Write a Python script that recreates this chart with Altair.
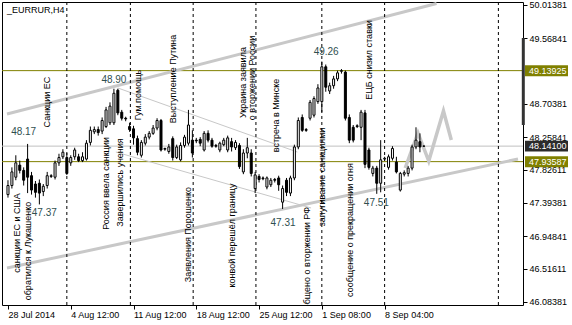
import json
import altair as alt
import pandas as pd

FONT = "Liberation Sans"
FS = 9

# ---- H4 candles (bar index, OHLC) ----
c_open = [47.50, 47.62, 47.73, 47.89, 47.82, 47.97, 47.75, 47.64, 47.65, 47.54,
          47.62, 47.74, 47.73, 47.92, 48.00, 47.99, 47.92, 48.00, 48.00, 47.95,
          47.97, 48.19, 48.33, 48.36, 48.34, 48.40, 48.45, 48.45, 48.88, 48.59,
          48.51, 48.40, 48.37, 48.24, 48.02, 48.18, 48.26, 48.31, 48.38, 48.48,
          48.10, 48.07, 48.24, 47.99, 47.96, 48.15, 48.18, 48.22, 48.22, 48.23,
          48.09, 48.31, 48.22, 48.15, 48.09, 48.16, 48.09, 48.20, 48.12, 48.15,
          47.80, 48.05, 48.05, 47.58, 47.74, 47.72, 47.60, 47.63, 47.70, 47.72,
          47.40, 47.69, 47.52, 47.72, 48.13, 48.52, 48.36, 48.51, 48.55, 48.73,
          48.73, 49.19, 48.87, 48.94, 49.03, 49.13, 49.12, 48.52, 48.39, 48.41,
          48.39, 48.58, 48.09, 47.78, 47.85, 47.65, 47.97, 47.86, 47.98, 47.93,
          47.56, 47.77, 47.78, 47.85, 48.13, 48.20, 48.14]
c_high = [47.69, 47.86, 48.02, 47.95, 47.86, 48.17, 47.80, 47.68, 47.70, 47.64,
          47.80, 47.77, 47.95, 48.04, 48.10, 48.05, 48.02, 48.12, 48.04, 48.06,
          48.22, 48.40, 48.40, 48.40, 48.52, 48.66, 48.72, 48.90, 48.90, 48.62,
          48.53, 48.45, 48.41, 48.28, 48.22, 48.30, 48.34, 48.42, 48.51, 48.50,
          48.12, 48.17, 48.27, 48.16, 48.19, 48.29, 48.62, 48.35, 48.25, 48.26,
          48.34, 48.35, 48.25, 48.17, 48.20, 48.25, 48.28, 48.25, 48.22, 48.18,
          48.10, 48.25, 48.10, 47.80, 47.77, 47.74, 47.74, 47.72, 47.72, 47.75,
          47.62, 47.72, 47.75, 48.16, 48.52, 48.56, 48.38, 48.75, 48.80, 48.96,
          49.26, 49.22, 48.98, 49.07, 49.14, 49.16, 49.14, 48.56, 48.42, 48.43,
          48.62, 48.62, 48.12, 47.88, 47.88, 48.22, 48.00, 48.03, 48.14, 48.00,
          47.80, 47.82, 47.88, 48.16, 48.39, 48.31, 48.15]
c_low = [47.46, 47.58, 47.69, 47.78, 47.62, 47.52, 47.50, 47.46, 47.37, 47.48,
         47.58, 47.72, 47.70, 47.88, 47.97, 47.76, 47.88, 47.96, 47.93, 47.93,
         47.95, 48.15, 48.30, 48.28, 48.30, 48.38, 48.42, 48.42, 48.55, 48.48,
         48.47, 48.33, 48.16, 48.02, 47.99, 48.15, 48.23, 48.29, 48.35, 48.07,
         48.08, 48.04, 47.95, 47.97, 47.94, 48.12, 48.15, 47.99, 48.18, 48.14,
         48.07, 48.19, 48.12, 48.12, 48.06, 48.14, 48.06, 48.07, 48.09, 47.84,
         47.77, 47.98, 47.74, 47.52, 47.66, 47.69, 47.57, 47.60, 47.66, 47.55,
         47.31, 47.48, 47.48, 47.69, 48.10, 48.33, 48.33, 48.48, 48.52, 48.70,
         48.59, 48.86, 48.83, 48.90, 49.00, 49.10, 48.48, 48.18, 48.19, 48.38,
         48.22, 47.85, 47.83, 47.74, 47.51, 47.53, 47.95, 47.83, 47.95, 47.78,
         47.54, 47.74, 47.74, 47.82, 48.10, 48.06, 48.13]
c_close = [47.62, 47.80, 47.92, 47.82, 47.69, 47.73, 47.56, 47.53, 47.52, 47.61,
           47.75, 47.75, 47.92, 47.99, 48.06, 47.78, 47.99, 48.09, 47.95, 48.00,
           48.18, 48.35, 48.36, 48.32, 48.48, 48.62, 48.67, 48.84, 48.58, 48.51,
           48.50, 48.36, 48.25, 48.06, 48.19, 48.26, 48.31, 48.38, 48.48, 48.09,
           48.11, 48.13, 47.99, 48.13, 48.15, 48.26, 48.42, 48.05, 48.21, 48.18,
           48.31, 48.22, 48.14, 48.14, 48.18, 48.22, 48.25, 48.13, 48.19, 47.87,
           48.05, 48.12, 47.78, 47.76, 47.70, 47.71, 47.72, 47.69, 47.69, 47.63,
           47.58, 47.53, 47.72, 48.13, 48.48, 48.35, 48.35, 48.72, 48.77, 48.91,
           49.19, 48.92, 48.94, 49.03, 49.11, 49.14, 48.51, 48.22, 48.22, 48.40,
           48.59, 47.90, 47.86, 47.85, 47.65, 47.96, 47.98, 48.00, 48.11, 47.80,
           47.78, 47.79, 47.85, 48.13, 48.22, 48.13, 48.141]

# ---- axes ----
time_tick_idx = [0, 16, 32, 48, 64, 80, 96]
time_tick_lab = ["28 Jul 2014", "4 Aug 12:00", "11 Aug 12:00", "18 Aug 12:00",
                 "25 Aug 12:00", "1 Sep 08:00", "8 Sep 04:00"]
price_ticks = [50.01381, 49.56841, 48.70381, 48.25841, 47.82611, 47.39381,
               46.94841, 46.51611, 46.08381]
x_domain = [-0.25, 130.0]
y_domain = [46.0400, 50.0469]

# ---- objects ----
sep_idx = [15, 31.2, 47.2, 63.2, 80, 96, 125]
olive_levels = [49.13925, 47.93587]
bid_price = 48.141
scroll_lo, scroll_hi = 48.420, 49.571

trend_id = ["up", "up", "low", "low"]
trend_i = [-0.25, 109.25, -0.25, 130.0]
trend_p = [48.566, 50.027, 46.529, 47.971]

thin_id = ["a", "a", "b", "b"]
thin_i = [28.0, 73.75, 27.5, 77.25]
thin_p = [48.910, 48.063, 48.063, 47.323]

zig_i = [101.25, 104.5, 107.25, 111.0, 113.0]
zig_p = [47.852, 48.315, 47.944, 48.606, 48.222]

ann_text = ["Санкции ЕС", "санкции ЕС и США", "обратился к Лукашенко",
            "Россия ввела санкции", "Завершились учения", "Гум.помощь",
            "Выступление Путина", "Заявления Порошенко", "конвой перешёл границу",
            "Украина заявила", "о вторжении России", "встреча в Минске",
            "запугивание санкциями", "сообщение о прекращении огня",
            "ЕЦБ снизил ставки"]
ann_i = [10.0, 2.2, 5.1, 25.0, 28.5, 33.2, 42.0, 46.0, 57.2, 60.0, 62.2, 68.2,
         80.1, 87.2, 92.0]
ann_p = [48.724, 46.992, 46.754, 47.647, 47.660, 48.817, 49.029, 46.972, 46.959,
         48.982, 49.042, 48.546, 47.733, 47.032, 49.280]

clip_text = ["сообщено о вторжении РФ"]
clip_i = [76.25]
clip_p = [47.336]

num_text = ["48.17", "47.37", "48.90", "47.31", "49.26", "47.51"]
num_i = [4.0, 9.25, 27.0, 70.1, 81.1, 93.9]
num_p = [48.332, 47.253, 49.015, 47.124, 49.386, 47.389]

# ---- data frames ----
candles = pd.DataFrame({"i": list(range(len(c_open))), "open": c_open,
                        "high": c_high, "low": c_low, "close": c_close})
candles["dir"] = ["up" if c >= o else "down" for o, c in zip(c_open, c_close)]

xs = alt.Scale(domain=x_domain, nice=False, zero=False)
ys = alt.Scale(domain=y_domain, nice=False, zero=False)

x_axis = alt.Axis(values=time_tick_idx,
                  labelExpr=json.dumps(time_tick_lab) + "[round(datum.value/16)]",
                  title=None, grid=False, domain=False, tickSize=4, tickColor="black",
                  labelAlign="left", labelBaseline="top", labelPadding=1, labelOffset=0,
                  labelFont=FONT, labelFontSize=FS, labelColor="black",
                  labelFlush=False, labelOverlap=False, labelBound=False)
y_axis = alt.Axis(values=price_ticks, orient="right",
                  labelExpr="format(datum.value, '.5f')",
                  title=None, grid=False, domain=False, tickSize=4, tickColor="black",
                  labelAlign="left", labelBaseline="middle", labelPadding=2,
                  labelFont=FONT, labelFontSize=FS, labelColor="black",
                  labelFlush=False, labelOverlap=False, labelBound=False)


def X(f):
    return alt.X(f, scale=xs, axis=x_axis)


def Y(f):
    return alt.Y(f, scale=ys, axis=y_axis)


olive_rules = alt.Chart(pd.DataFrame({"v": olive_levels})).mark_rule(
    color="#808000", strokeWidth=1).encode(y=Y("v:Q"))
bid_rule = alt.Chart(pd.DataFrame({"v": [bid_price]})).mark_rule(
    color="#c0c0c0", strokeWidth=1).encode(y=Y("v:Q"))

trend = alt.Chart(pd.DataFrame({"id": trend_id, "i": trend_i, "p": trend_p})).mark_line(
    color="#c8c8c8", strokeWidth=3, clip=True).encode(x=X("i:Q"), y=Y("p:Q"), detail="id:N")
thin = alt.Chart(pd.DataFrame({"id": thin_id, "i": thin_i, "p": thin_p})).mark_line(
    color="#c8c8c8", strokeWidth=1, clip=True).encode(x=X("i:Q"), y=Y("p:Q"), detail="id:N")
zig = alt.Chart(pd.DataFrame({"i": zig_i, "p": zig_p})).mark_line(
    color="#c8c8c8", strokeWidth=3.5, clip=True).encode(x=X("i:Q"), y=Y("p:Q"))

seps = alt.Chart(pd.DataFrame({"i": sep_idx})).mark_rule(
    color="black", strokeWidth=1, strokeDash=[3, 3]).encode(x=X("i:Q"))

wicks = alt.Chart(candles).mark_rule(color="black", strokeWidth=1).encode(
    x=X("i:Q"), y=Y("low:Q"), y2="high:Q")
bodies = alt.Chart(candles).mark_bar(size=2, stroke="black", strokeWidth=1).encode(
    x=X("i:Q"), y=Y("open:Q"), y2="close:Q",
    fill=alt.Fill("dir:N", scale=alt.Scale(domain=["up", "down"], range=["white", "black"]),
                  legend=None))

ann = alt.Chart(pd.DataFrame({"t": ann_text, "i": ann_i, "p": ann_p})).mark_text(
    angle=270, font=FONT, fontSize=FS, color="black", align="center", baseline="middle"
).encode(x=X("i:Q"), y=Y("p:Q"), text="t:N")
ann_clip = alt.Chart(pd.DataFrame({"t": clip_text, "i": clip_i, "p": clip_p})).mark_text(
    angle=270, font=FONT, fontSize=FS, color="black", align="right", baseline="middle",
    clip=True).encode(x=X("i:Q"), y=Y("p:Q"), text="t:N")
nums = alt.Chart(pd.DataFrame({"t": num_text, "i": num_i, "p": num_p})).mark_text(
    font=FONT, fontSize=FS + 1, color="#2f4f4f", align="center", baseline="middle"
).encode(x=X("i:Q"), y=Y("p:Q"), text="t:N")

half_box = 0.0727
olive_box = alt.Chart(pd.DataFrame({"v": olive_levels})).transform_calculate(
    lo=f"datum.v - {half_box}", hi=f"datum.v + {half_box}",
    lab="format(datum.v, '.5f')")
olive_rect = olive_box.mark_rect(color="#808000").encode(
    x=alt.value(523), x2=alt.value(566), y=Y("lo:Q"), y2="hi:Q")
olive_txt = olive_box.mark_text(color="white", font=FONT, fontSize=FS, align="left",
                                baseline="middle").encode(
    x=alt.value(527), y=Y("v:Q"), text="lab:N")
bid_box = alt.Chart(pd.DataFrame({"v": [bid_price]})).transform_calculate(
    lo=f"datum.v - {half_box}", hi=f"datum.v + {half_box}",
    lab="format(datum.v, '.5f')")
bid_rect = bid_box.mark_rect(color="#2b2b2b").encode(
    x=alt.value(523), x2=alt.value(566), y=Y("lo:Q"), y2="hi:Q")
bid_txt = bid_box.mark_text(color="white", font=FONT, fontSize=FS, align="left",
                            baseline="middle").encode(
    x=alt.value(527), y=Y("v:Q"), text="lab:N")

scroll = alt.Chart(pd.DataFrame({"a": [scroll_lo], "b": [scroll_hi]})).mark_rule(
    color="#333333", strokeWidth=3).encode(x=alt.value(521.3), y=Y("a:Q"), y2="b:Q")

title = alt.Chart(pd.DataFrame({"t": ["_EURRUR,H4"]})).mark_text(
    font=FONT, fontSize=FS, color="black", align="left", baseline="middle").encode(
    x=alt.value(5), y=alt.value(8), text="t:N")

chart = alt.layer(
    olive_rules, bid_rule, trend, thin, zig, seps, wicks, bodies,
    ann, ann_clip, nums, olive_rect, olive_txt, bid_rect, bid_txt, scroll, title
).properties(
    width=521, height=303,
    autosize=alt.AutoSizeParams(type="none"),
    padding={"left": 2, "top": 2, "right": 49, "bottom": 20},
    background="white",
).configure_view(stroke="black", strokeWidth=1)

chart.save("out.html", embed_options={"renderer": "svg", "actions": False})
